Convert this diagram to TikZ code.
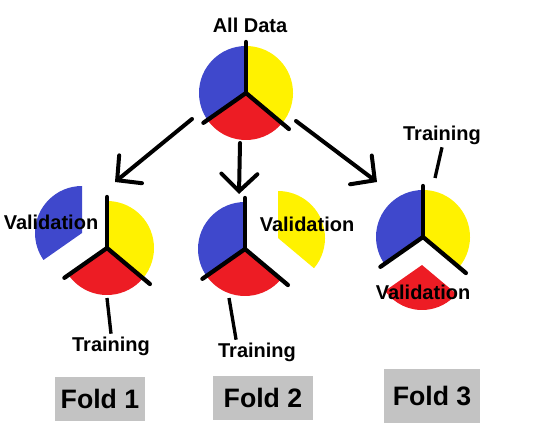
\documentclass[tikz,border=0pt]{standalone}
\usepackage{fontspec}
\setmainfont{Liberation Sans}
\usetikzlibrary{arrows.meta,calc}
\definecolor{pieblue}{RGB}{63,72,204}
\definecolor{pieyellow}{RGB}{255,242,0}
\definecolor{piered}{RGB}{237,28,36}
\definecolor{foldgray}{RGB}{195,195,195}
\tikzset{
  spoke/.style={line width=3.2pt, line cap=round},
  splitarrow/.style={line width=3pt, line cap=round, -{Straight Barb[length=13pt, width=27pt, line cap=round]}},
  leader/.style={line width=2.5pt},
  pietext/.style={font=\bfseries\fontsize{15}{18}\selectfont, inner sep=2pt},
  fold/.style={fill=foldgray, font=\bfseries\fontsize{20}{24}\selectfont, minimum height=33pt}
}
\newcommand{\piesector}[5]{\fill[#5] (#1) -- ++(#3:#2) arc (#3:#4:#2) -- cycle;}

\begin{document}
\begin{tikzpicture}[x=0.75pt, y=0.75pt]
\useasboundingbox (0,0) rectangle (555,436);
% centres of the pies and of the pieces taken out
\coordinate (c0) at (246,343);
\coordinate (c1) at (107,188);
\coordinate (c2) at (245,187);
\coordinate (c3) at (423,199);
\coordinate (v1) at (82,203);
\coordinate (v2) at (278,198);
\coordinate (v3) at (422,171);

\piesector{c0}{47}{90}{215}{pieblue}
\piesector{c0}{47}{215}{320}{piered}
\piesector{c0}{47}{320}{450}{pieyellow}

\piesector{v1}{47}{90}{215}{pieblue}
\piesector{c1}{47}{215}{320}{piered}
\piesector{c1}{47}{320}{450}{pieyellow}

\piesector{c2}{47}{90}{215}{pieblue}
\piesector{c2}{47}{215}{320}{piered}
\piesector{v2}{47}{320}{450}{pieyellow}

\piesector{c3}{47}{90}{215}{pieblue}
\piesector{v3}{45}{215}{320}{piered}
\piesector{c3}{47}{320}{450}{pieyellow}

\foreach \c in {c0,c1,c2,c3}
  \foreach \a/\l in {90/51,215/52,320/56}
    \draw[spoke] (\c) -- ++(\a:\l);

\node[pietext] (all) at (250,411) {All Data};
\node[pietext] (val1) at (51,214) {Validation};
\node[pietext] (val2) at (307,212) {Validation};
\node[pietext] (val3) at (423,144) {Validation};
\node[pietext] (train1) at (111,90) {Training};
\node[pietext] (train2) at (257,84) {Training};
\node[pietext] (train3) at (442,301) {Training};

% arrows from the whole set to the folds
\coordinate (s1) at (192,317);
\coordinate (e1) at (115,254);
\coordinate (s2) at (240,293);
\coordinate (e2) at (239,242);
\coordinate (s3) at (296,315);
\coordinate (e3) at (377,254);
\draw[splitarrow] (s1) -- (e1);
\draw[splitarrow] (s2) -- (e2);
\draw[splitarrow] (s3) -- (e3);

\coordinate (l1) at (107,138);
\coordinate (l2) at (229,138);
\coordinate (l3) at (435,258);
\draw[leader] (l1) -- (train1.north);
\draw[leader] (l2) -- ($(train2.north west)!0.25!(train2.north east)$);
\draw[leader] (train3.south) -- (l3);

\node[fold, minimum width=68pt] (fold1) at (100,37) {Fold 1};
\node[fold, minimum width=75pt] (fold2) at (263,38) {Fold 2};
\node[fold, minimum width=72pt, minimum height=40pt] (fold3) at (432,40) {Fold 3};
\end{tikzpicture}
\end{document}
